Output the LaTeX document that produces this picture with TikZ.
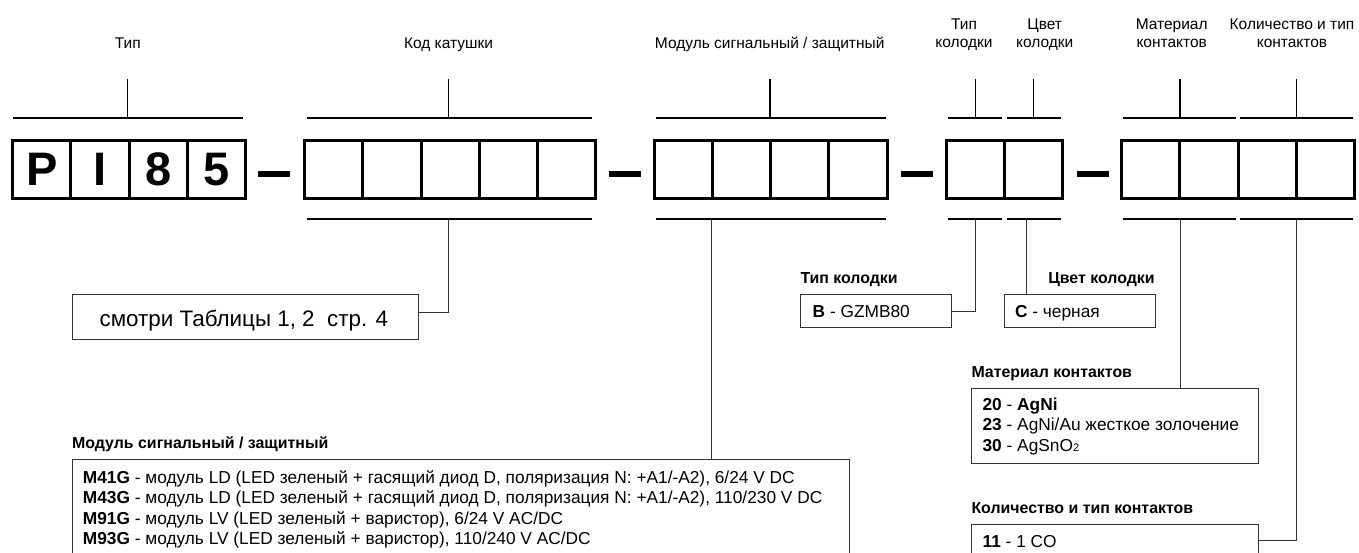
\documentclass[tikz,border=0pt]{standalone}
\usepackage{fontspec}
\setmainfont{Liberation Sans}
\usetikzlibrary{positioning}

\begin{document}
\begin{tikzpicture}[x=1pt, y=-1pt,
  cell/.style={draw, line width=3pt, minimum width=58.2pt, minimum height=58pt, inner sep=0pt, outer sep=0pt, text height=33.6pt, text depth=0pt, font=\fontsize{47}{47}\selectfont\bfseries},
  dashbar/.style={fill, minimum width=32pt, minimum height=6.7pt, inner sep=0pt},
  toplabel/.style={font=\fontsize{15.5}{18.4}\selectfont, align=center, inner sep=0pt, anchor=base},
  heading/.style={font=\fontsize{15.9}{18}\selectfont\bfseries, inner sep=0pt, anchor=base west},
  infobox/.style={draw=black!80, line width=1pt, inner sep=0pt, anchor=north west},
  infotext/.style={font=\fontsize{17.3}{20.4}\selectfont, align=left, inner sep=0pt, anchor=base west},
  bracket/.style={line width=1.8pt},
  stem/.style={line width=1.3pt},
  link/.style={draw=black!80, line width=1pt}]
  \useasboundingbox (0,0) rectangle (1359,552);
  \clip (0,0) rectangle (1359,552);

  % labels on top
  \node[toplabel] (lType) at (127.7,48) {Тип};
  \node[toplabel] (lCoil) at (448.5,48) {Код катушки};
  \node[toplabel] (lMod) at (769.7,48) {Модуль сигнальный / защитный};
  \node[toplabel] (lSockT) at (964,47.7) {Тип\\колодки};
  \node[toplabel] (lSockC) at (1044.7,47.7) {Цвет\\колодки};
  \node[toplabel] (lMat) at (1171.7,47.7) {Материал\\контактов};
  \node[toplabel] (lQty) at (1292,47.7) {Количество и тип\\контактов};

  % code cells
  \node[cell] (t1) at (41.8,169) {P};
  \node[cell, right=0pt of t1] (t2) {I};
  \node[cell, right=0pt of t2] (t3) {8};
  \node[cell, right=0pt of t3] (t4) {5};
  \node[dashbar] (d1) at (274.2,174) {};
  \node[cell] (k1) at (333.8,169) {};
  \node[cell, right=0pt of k1] (k2) {};
  \node[cell, right=0pt of k2] (k3) {};
  \node[cell, right=0pt of k3] (k4) {};
  \node[cell, right=0pt of k4] (k5) {};
  \node[dashbar] (d2) at (624.5,174) {};
  \node[cell] (m1) at (683.4,169) {};
  \node[cell, right=0pt of m1] (m2) {};
  \node[cell, right=0pt of m2] (m3) {};
  \node[cell, right=0pt of m3] (m4) {};
  \node[dashbar] (d3) at (916.7,174) {};
  \node[cell] (s1) at (975.1,169) {};
  \node[cell, right=0pt of s1] (s2) {};
  \node[dashbar] (d4) at (1092.5,174) {};
  \node[cell] (c1) at (1150.8,169) {};
  \node[cell, right=0pt of c1] (c2) {};
  \node[cell, right=0pt of c2] (c3) {};
  \node[cell, right=0pt of c3] (c4) {};

  % brackets above
  \draw[bracket] (13.3,118.3) -- (243.3,118.3);
  \draw[bracket] (307,118.3) -- (592.3,118.3);
  \draw[bracket] (656,118.3) -- (886,118.3);
  \draw[bracket] (948.3,118.3) -- (1002.3,118.3);
  \draw[bracket] (1006.7,118.3) -- (1060.7,118.3);
  \draw[bracket] (1123.3,118.3) -- (1236,118.3);
  \draw[bracket] (1240,118.3) -- (1353.3,118.3);
  \draw[stem] (127.7,79) -- (127.7,118.3);
  \draw[stem] (448.3,79) -- (448.3,118.3);
  \draw[stem] (770,79) -- (770,118.3);
  \draw[stem] (975.7,79) -- (975.7,118.3);
  \draw[stem] (1033.3,79) -- (1033.3,118.3);
  \draw[stem] (1180,79) -- (1180,118.3);
  \draw[stem] (1296.7,79) -- (1296.7,118.3);

  % brackets below
  \draw[bracket] (307,219) -- (592.3,219);
  \draw[bracket] (656,219) -- (886,219);
  \draw[bracket] (948.3,219) -- (1002.3,219);
  \draw[bracket] (1006.7,219) -- (1060.7,219);
  \draw[bracket] (1123.3,219) -- (1236,219);
  \draw[bracket] (1240,219) -- (1353.3,219);
  \coordinate (bCoil) at (448.3,219);
  \coordinate (bMod) at (711.7,219);
  \coordinate (bSockT) at (975.7,219);
  \coordinate (bSockC) at (1026,219);
  \coordinate (bMat) at (1180,219);
  \coordinate (bQty) at (1296.7,219);

  % coil code
  \node[infobox, minimum width=346.6pt, minimum height=45pt] (refbox) at (71.7,294.3) {};
  \node[font=\fontsize{22.4}{25}\selectfont, inner sep=0pt, anchor=base] (reftext) at (243.8,326.7) {смотри Таблицы 1, 2\ \ стр. 4};

  % socket type and colour
  \node[heading] (hSockT) at (800.3,283.2) {Тип колодки};
  \node[infobox, minimum width=150.7pt, minimum height=32.4pt] (sockT) at (800.3,294.3) {};
  \node[infotext] (tSockT) at (812.5,317.1) {\textbf{B} - GZMB80};
  \node[heading, anchor=base east] (hSockC) at (1154.8,283.2) {Цвет колодки};
  \node[infobox, minimum width=150.7pt, minimum height=32.4pt] (sockC) at (1004.1,294.3) {};
  \node[infotext] (tSockC) at (1014.9,317.1) {\textbf{C} - черная};

  % contact material
  \node[heading] (hMat) at (971.3,377.2) {Материал контактов};
  \node[infobox, minimum width=286.9pt, minimum height=74.5pt] (matbox) at (971.3,388.2) {};
  \node[infotext] (tMat) at (982.4,451.1) {\textbf{20} - \textbf{AgNi}\\
    \textbf{23} - AgNi/Au жесткое золочение\\
    \textbf{30} - AgSnO{\fontsize{11}{11}\selectfont 2}};

  % number and type of contacts
  \node[heading] (hQty) at (971.3,513.2) {Количество и тип контактов};
  \node[infobox, minimum width=286.9pt, minimum height=50pt] (qtybox) at (971.3,524) {};
  \node[infotext] (tQty) at (982.4,547.1) {\textbf{11} - 1 CO};

  % signal / protection module
  \node[heading] (hMod) at (72,448.2) {Модуль сигнальный / защитный};
  \node[infobox, minimum width=777pt, minimum height=110pt] (modbox) at (72,459.3) {};
  \node[infotext] (tMod) at (82.7,544.5) {\textbf{M41G} - модуль LD (LED зеленый + гасящий диод D, поляризация N: +A1/-A2), 6/24 V DC\\
    \textbf{M43G} - модуль LD (LED зеленый + гасящий диод D, поляризация N: +A1/-A2), 110/230 V DC\\
    \textbf{M91G} - модуль LV (LED зеленый + варистор), 6/24 V AC/DC\\
    \textbf{M93G} - модуль LV (LED зеленый + варистор), 110/240 V AC/DC};

  % links
  \draw[link] (bCoil) |- ([yshift=4.5pt]refbox.east);
  \draw[link] (bMod) -- (bMod |- modbox.north);
  \draw[link] (bSockT) |- (sockT.east);
  \draw[link] (bSockC) -- (bSockC |- sockC.north);
  \draw[link] (bMat) -- (bMat |- matbox.north);
  \draw[link] (bQty) |- ([yshift=-16pt]qtybox.north east);
\end{tikzpicture}
\end{document}
